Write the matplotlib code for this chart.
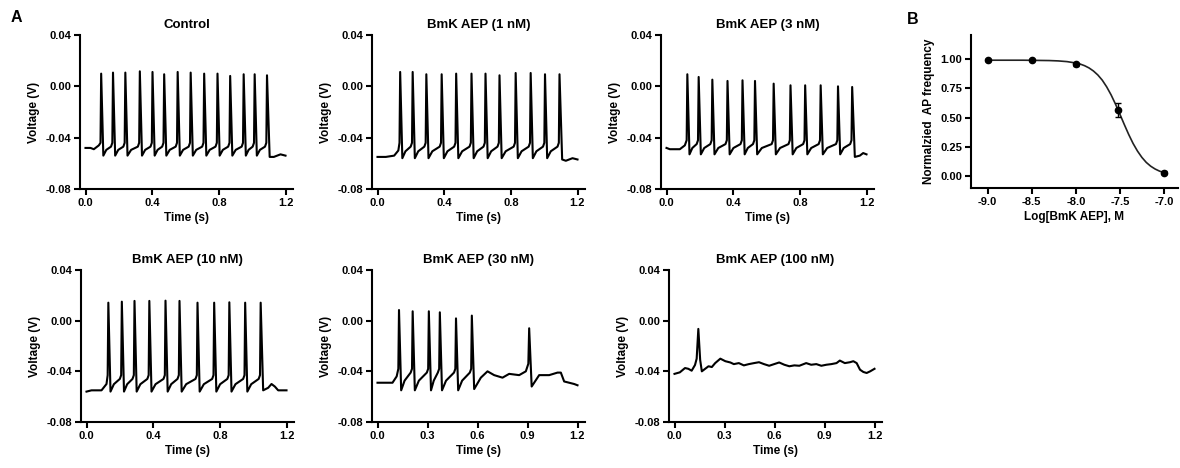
import numpy as np
import matplotlib
matplotlib.use("Agg")
import matplotlib.pyplot as plt

plt.rcParams['font.family'] = ['Liberation Sans', 'DejaVu Sans']
plt.rcParams['font.weight'] = 'bold'
plt.rcParams['axes.labelweight'] = 'bold'
plt.rcParams['axes.titleweight'] = 'bold'

W, H = 1180, 468

# ---- spike trains ----
titles = ["Control", "BmK AEP (1 nM)", "BmK AEP (3 nM)",
          "BmK AEP (10 nM)", "BmK AEP (30 nM)", "BmK AEP (100 nM)"]

ctrl_spikes = [0.094, 0.165, 0.239, 0.326, 0.402, 0.472, 0.553, 0.631, 0.712, 0.792, 0.868, 0.949, 1.015, 1.089]
ctrl_peaks = [0.0099, 0.0107, 0.0107, 0.0117, 0.0112, 0.0094, 0.0112, 0.0107, 0.0099, 0.0099, 0.0081, 0.0094, 0.0094, 0.0086]
ctrl_pre = [(0.0, -0.048), (0.03, -0.048), (0.05, -0.049), (0.08, -0.046)]
ctrl_post = [(1.105, -0.055), (1.13, -0.055), (1.17, -0.053), (1.2, -0.054)]

nm1_spikes = [0.136, 0.211, 0.293, 0.385, 0.472, 0.564, 0.648, 0.732, 0.829, 0.919, 1.005, 1.092]
nm1_peaks = [0.0112, 0.0112, 0.0094, 0.0094, 0.0099, 0.0099, 0.0099, 0.0086, 0.0104, 0.0104, 0.0094, 0.0094]
nm1_pre = [(0.0, -0.055), (0.05, -0.055), (0.10, -0.054), (0.125, -0.050)]
nm1_post = [(1.108, -0.057), (1.13, -0.058), (1.17, -0.056), (1.2, -0.057)]

nm3_spikes = [0.125, 0.193, 0.275, 0.366, 0.456, 0.531, 0.643, 0.744, 0.832, 0.925, 1.029, 1.114]
nm3_peaks = [0.0094, 0.0073, 0.0052, 0.0042, 0.0047, 0.0042, 0.0021, 0.0008, 0.0008, 0.0008, 0.0, -0.0005]
nm3_pre = [(0.0, -0.048), (0.02, -0.049), (0.08, -0.049), (0.11, -0.046)]
nm3_post = [(1.13, -0.055), (1.16, -0.054), (1.18, -0.052), (1.2, -0.053)]

nm10_spikes = [0.131, 0.212, 0.288, 0.377, 0.474, 0.558, 0.666, 0.766, 0.857, 0.952, 1.045]
nm10_peaks = [0.0142, 0.0150, 0.0156, 0.0156, 0.0158, 0.0156, 0.0142, 0.0142, 0.0145, 0.0142, 0.0142]
nm10_pre = [(0.0, -0.056), (0.03, -0.055), (0.09, -0.055), (0.12, -0.050)]
nm10_post = [(1.06, -0.055), (1.09, -0.053), (1.11, -0.050), (1.13, -0.052), (1.15, -0.055), (1.2, -0.055)]

nm30_spikes = [0.129, 0.211, 0.308, 0.374, 0.471, 0.566]
nm30_peaks = [0.0084, 0.0074, 0.0074, 0.0066, 0.0018, 0.0040]
nm30_pre = [(0.0, -0.049), (0.05, -0.049), (0.09, -0.049), (0.115, -0.044)]
nm30_post = [(0.58, -0.054), (0.62, -0.045), (0.66, -0.040), (0.70, -0.043), (0.75, -0.045),
             (0.79, -0.042), (0.85, -0.043), (0.89, -0.040), (0.905, -0.034), (0.910, -0.006),
             (0.925, -0.052), (0.95, -0.047), (0.97, -0.043), (1.03, -0.043), (1.08, -0.041),
             (1.10, -0.041), (1.12, -0.048), (1.15, -0.049), (1.18, -0.050), (1.2, -0.051)]

# threshold / trough levels per trace
thr_levels = [-0.044, -0.044, -0.042, -0.043, -0.038]
trough_levels = [-0.054, -0.056, -0.053, -0.056, -0.055]

t100 = [0.0, 0.032, 0.063, 0.083, 0.103, 0.123, 0.133, 0.143, 0.154, 0.164, 0.184, 0.204, 0.224,
        0.244, 0.275, 0.305, 0.335, 0.356, 0.386, 0.416, 0.446, 0.477, 0.507, 0.537, 0.568, 0.598,
        0.628, 0.659, 0.689, 0.719, 0.749, 0.790, 0.820, 0.851, 0.881, 0.911, 0.941, 0.972, 0.992,
        1.022, 1.053, 1.073, 1.093, 1.113, 1.133, 1.153, 1.174, 1.2]
v100 = [-0.042, -0.0408, -0.0374, -0.038, -0.0395, -0.035, -0.030, -0.0065, -0.031, -0.040, -0.038,
        -0.036, -0.0366, -0.0335, -0.030, -0.032, -0.033, -0.0343, -0.0335, -0.0353, -0.0343, -0.0335,
        -0.0328, -0.0343, -0.0356, -0.0343, -0.033, -0.0348, -0.036, -0.0353, -0.0356, -0.0335, -0.0348,
        -0.0343, -0.0356, -0.0348, -0.0343, -0.0335, -0.0315, -0.0335, -0.0328, -0.032, -0.0335, -0.0387,
        -0.0405, -0.0413, -0.040, -0.038]

# ---- dose response ----
log_conc = [-9.0, -8.5, -8.0, -7.52, -7.0]
norm_freq = [0.99, 0.99, 0.955, 0.563, 0.029]
freq_err = [0.008, 0.008, 0.015, 0.06, 0.012]
fit_x = [-9.0, -8.8, -8.6, -8.5, -8.4, -8.3, -8.2, -8.1, -8.0, -7.95, -7.9, -7.85, -7.8, -7.75, -7.7,
         -7.65, -7.6, -7.55, -7.5, -7.45, -7.4, -7.35, -7.3, -7.25, -7.2, -7.15, -7.1, -7.05, -7.0]
fit_y = [0.990, 0.990, 0.990, 0.989, 0.988, 0.987, 0.984, 0.978, 0.966, 0.957, 0.943, 0.924, 0.898,
         0.864, 0.820, 0.763, 0.695, 0.616, 0.530, 0.442, 0.357, 0.280, 0.215, 0.161, 0.118, 0.086,
         0.062, 0.044, 0.031]


def build_trace(pre, spikes, peaks, thr, trough, post):
    pts = list(pre)
    for i in range(len(spikes)):
        pts.append((spikes[i] - 0.004, thr))
        pts.append((spikes[i], peaks[i]))
        if i < len(spikes) - 1:
            gap = spikes[i + 1] - spikes[i]
            pts.append((spikes[i] + 0.013, trough))
            # quick partial recovery, then slower climb to threshold
            pts.append((spikes[i] + 0.013 + 0.25 * gap, trough + 0.45 * (thr - trough)))
            pts.append((spikes[i + 1] - 0.012, thr - 0.003))
    pts += list(post)
    return [p[0] for p in pts], [p[1] for p in pts]


traces = [
    build_trace(ctrl_pre, ctrl_spikes, ctrl_peaks, thr_levels[0], trough_levels[0], ctrl_post),
    build_trace(nm1_pre, nm1_spikes, nm1_peaks, thr_levels[1], trough_levels[1], nm1_post),
    build_trace(nm3_pre, nm3_spikes, nm3_peaks, thr_levels[2], trough_levels[2], nm3_post),
    build_trace(nm10_pre, nm10_spikes, nm10_peaks, thr_levels[3], trough_levels[3], nm10_post),
    build_trace(nm30_pre, nm30_spikes, nm30_peaks, thr_levels[4], trough_levels[4], nm30_post),
    (t100, v100),
]

fig = plt.figure(figsize=(W / 100, H / 100), dpi=100)


def px_axes(left, top, width, height):
    return fig.add_axes([left / W, 1 - (top + height) / H, width / W, height / H])


def style(ax):
    ax.spines['top'].set_visible(False)
    ax.spines['right'].set_visible(False)
    for s in ['left', 'bottom']:
        ax.spines[s].set_linewidth(1.5)
    ax.tick_params(width=1.5, length=4, labelsize=8, pad=2.5)
    for lb in ax.get_xticklabels() + ax.get_yticklabels():
        lb.set_fontweight('bold')


lefts = [80, 372, 661, 81, 372, 669]
tops = [35, 35, 35, 270, 270, 270]
xticks_sets = [[0.0, 0.4, 0.8, 1.2]] * 4 + [[0.0, 0.3, 0.6, 0.9, 1.2]] * 2

for k in range(6):
    ax = px_axes(lefts[k], tops[k], 213, 154 if k < 3 else 152)
    tx, vy = traces[k]
    ax.plot(tx, vy, color='black', lw=1.5)
    ax.set_xlim(-0.033, 1.245)
    ax.set_ylim(-0.08, 0.04)
    ax.set_yticks([-0.08, -0.04, 0.0, 0.04])
    ax.set_yticklabels(["-0.08", "-0.04", "0.00", "0.04"])
    ax.set_xticks(xticks_sets[k])
    ax.set_xticklabels(["%.1f" % v for v in xticks_sets[k]])
    ax.set_ylabel("Voltage (V)", fontsize=8.5, labelpad=4)
    ax.set_xlabel("Time (s)", fontsize=8.5, labelpad=3)
    ax.set_title(titles[k], fontsize=9.5, pad=5)
    style(ax)

# ---- panel B ----
axb = px_axes(971, 35, 207, 153)
axb.plot(fit_x, fit_y, color='#222222', lw=1.2)
axb.errorbar(log_conc, norm_freq, yerr=freq_err, fmt='o', color='black', ms=4.5,
             capsize=2.5, elinewidth=1, capthick=1)
axb.set_xlim(-9.19, -6.84)
axb.set_ylim(-0.10, 1.205)
axb.set_xticks([-9.0, -8.5, -8.0, -7.5, -7.0])
axb.set_xticklabels(["-9.0", "-8.5", "-8.0", "-7.5", "-7.0"])
axb.set_yticks([0.0, 0.25, 0.5, 0.75, 1.0])
axb.set_yticklabels(["0.00", "0.25", "0.50", "0.75", "1.00"])
axb.set_ylabel("Normalzied  AP frequency", fontsize=8.5, labelpad=4)
axb.set_xlabel("Log[BmK AEP], M", fontsize=8.5, labelpad=3)
style(axb)

fig.text(16 / W, 1 - 18 / H, "A", fontsize=11.5, fontweight='bold', ha='center', va='center')
fig.text(913 / W, 1 - 20 / H, "B", fontsize=11.5, fontweight='bold', ha='center', va='center')

fig.savefig("out.png", dpi=100, facecolor='white')
